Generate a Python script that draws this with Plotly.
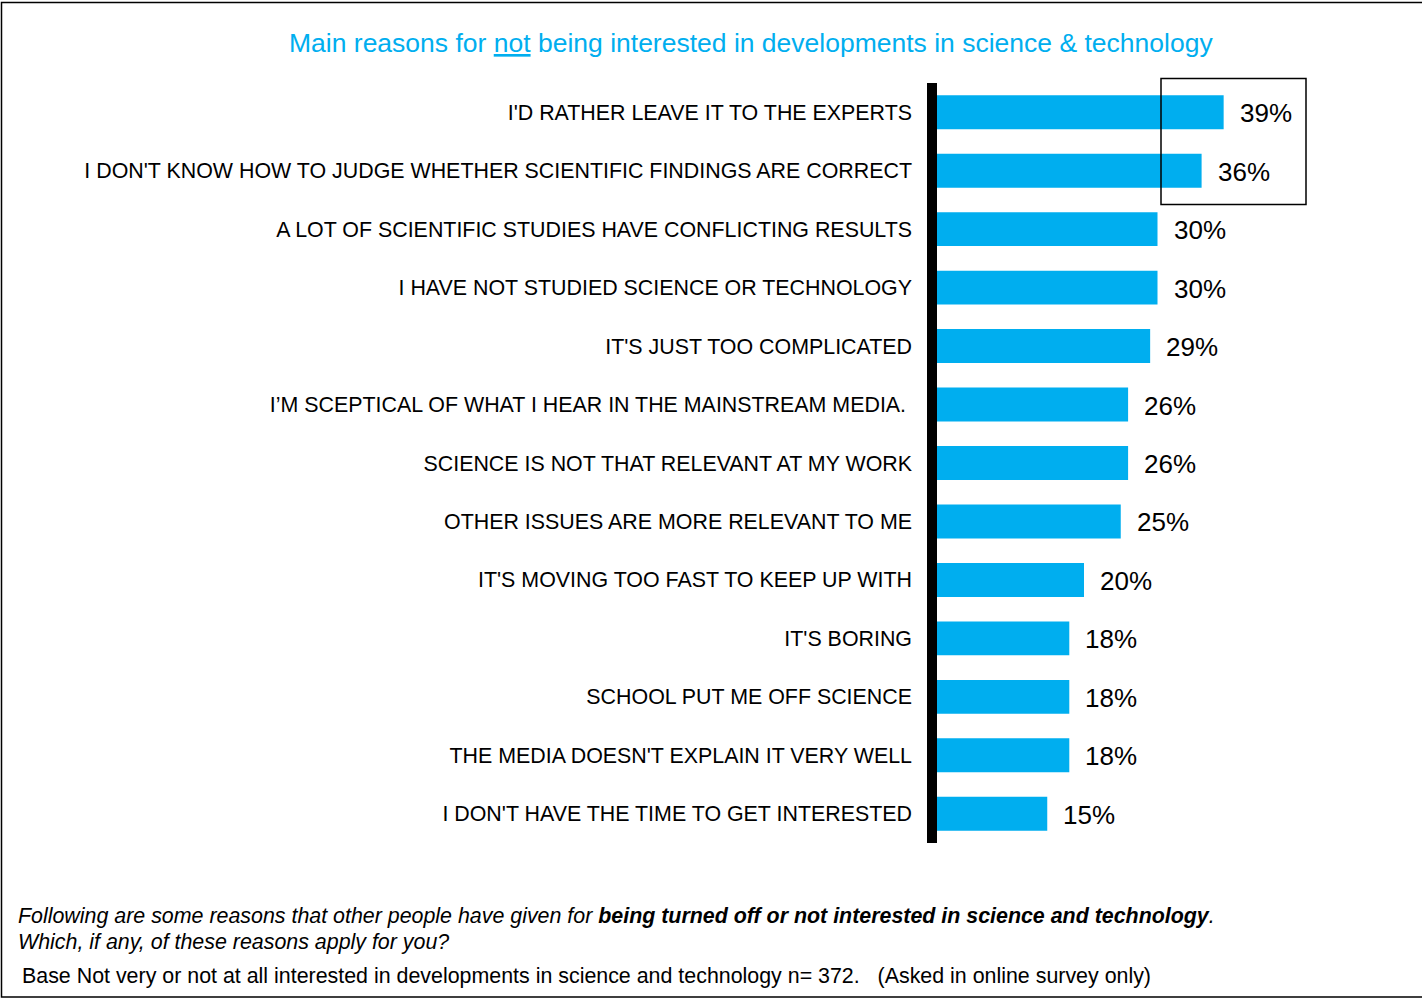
import plotly.graph_objects as go

# Survey reasons, top to bottom
reasons = [
    "I'D RATHER LEAVE IT TO THE EXPERTS",
    "I DON'T KNOW HOW TO JUDGE WHETHER SCIENTIFIC FINDINGS ARE CORRECT",
    "A LOT OF SCIENTIFIC STUDIES HAVE CONFLICTING RESULTS",
    "I HAVE NOT STUDIED SCIENCE OR TECHNOLOGY",
    "IT'S JUST TOO COMPLICATED",
    "I\u2019M SCEPTICAL OF WHAT I HEAR IN THE MAINSTREAM MEDIA.\u00a0",
    "SCIENCE IS NOT THAT RELEVANT AT MY WORK",
    "OTHER ISSUES ARE MORE RELEVANT TO ME",
    "IT'S MOVING TOO FAST TO KEEP UP WITH",
    "IT'S BORING",
    "SCHOOL PUT ME OFF SCIENCE",
    "THE MEDIA DOESN'T EXPLAIN IT VERY WELL",
    "I DON'T HAVE THE TIME TO GET INTERESTED",
]
percent = [39, 36, 30, 30, 29, 26, 26, 25, 20, 18, 18, 18, 15]

W, H = 1422, 998
ML, MR, MT, MB = 937, 100, 83, 155
PW, PH = W - ML - MR, H - MT - MB
PX_PER_PCT = 7.35
XMAX = PW / PX_PER_PCT

BLUE = "#00AEEF"
FONT = "Arial, Liberation Sans, sans-serif"


def px_x(px):
    return (px - ML) / PW


def px_y(py):
    return (H - MB - py) / PH


fig = go.Figure(
    go.Bar(
        x=percent,
        y=reasons,
        orientation="h",
        marker=dict(color=BLUE, line=dict(width=0)),
        width=0.58,
        hoverinfo="skip",
    )
)

# Value labels to the right of each bar
for r, v in zip(reasons, percent):
    fig.add_annotation(
        x=v, y=r, xref="x", yref="y", text=f"{v}%", showarrow=False,
        xanchor="left", xshift=14, yshift=-1,
        font=dict(family=FONT, size=26, color="black"),
    )

# Highlight box around the two leading reasons
fig.add_shape(
    type="rect", xref="x", yref="paper",
    x0=(1161 - ML) / PX_PER_PCT, x1=(1306 - ML) / PX_PER_PCT,
    y0=px_y(204.5), y1=px_y(78.5),
    line=dict(color="black", width=1.5), fillcolor="rgba(0,0,0,0)",
)

# Thick vertical baseline
fig.add_shape(
    type="rect", xref="paper", yref="paper",
    x0=px_x(927), x1=px_x(937), y0=px_y(843), y1=px_y(83),
    line=dict(width=0), fillcolor="black",
)

# Outer frame
fig.add_shape(
    type="rect", xref="paper", yref="paper",
    x0=px_x(1.5), x1=px_x(1430), y0=px_y(997), y1=px_y(2.5),
    line=dict(color="black", width=1.5), fillcolor="rgba(0,0,0,0)",
    layer="above",
)

# Title
fig.add_annotation(
    xref="paper", yref="paper", x=px_x(751), y=px_y(43),
    text="Main reasons for <u>not</u> being interested in developments in science &amp; technology",
    showarrow=False, xanchor="center", yanchor="middle",
    font=dict(family=FONT, size=26.5, color=BLUE),
)

# Question wording and base
fig.add_annotation(
    xref="paper", yref="paper", x=px_x(15.5), y=px_y(916),
    text="<i>Following are some reasons that other people have given for <b>being turned off or not interested in science and technology</b>.</i>",
    showarrow=False, xanchor="left", yanchor="middle",
    font=dict(family=FONT, size=21.4, color="black"),
)
fig.add_annotation(
    xref="paper", yref="paper", x=px_x(15.5), y=px_y(942),
    text="<i>Which, if any, of these reasons apply for you?</i>",
    showarrow=False, xanchor="left", yanchor="middle",
    font=dict(family=FONT, size=21.4, color="black"),
)
fig.add_annotation(
    xref="paper", yref="paper", x=px_x(20.5), y=px_y(976),
    text="Base Not very or not at all interested in developments in science and technology n= 372.   (Asked in online survey only)",
    showarrow=False, xanchor="left", yanchor="middle",
    font=dict(family=FONT, size=21.4, color="black"),
)

fig.update_layout(
    width=W, height=H,
    margin=dict(l=ML, r=MR, t=MT, b=MB, pad=0),
    plot_bgcolor="white", paper_bgcolor="white",
    showlegend=False,
    bargap=0.42,
    font=dict(family=FONT, color="black"),
)
fig.update_xaxes(range=[0, XMAX], visible=False, fixedrange=True)
fig.update_yaxes(
    categoryorder="array", categoryarray=reasons, autorange="reversed",
    showline=False, showgrid=False, zeroline=False, ticks="",
    tickfont=dict(family=FONT, size=21.4, color="black"),
    ticklabelstandoff=24, fixedrange=True,
)

fig.write_html("out.html")
